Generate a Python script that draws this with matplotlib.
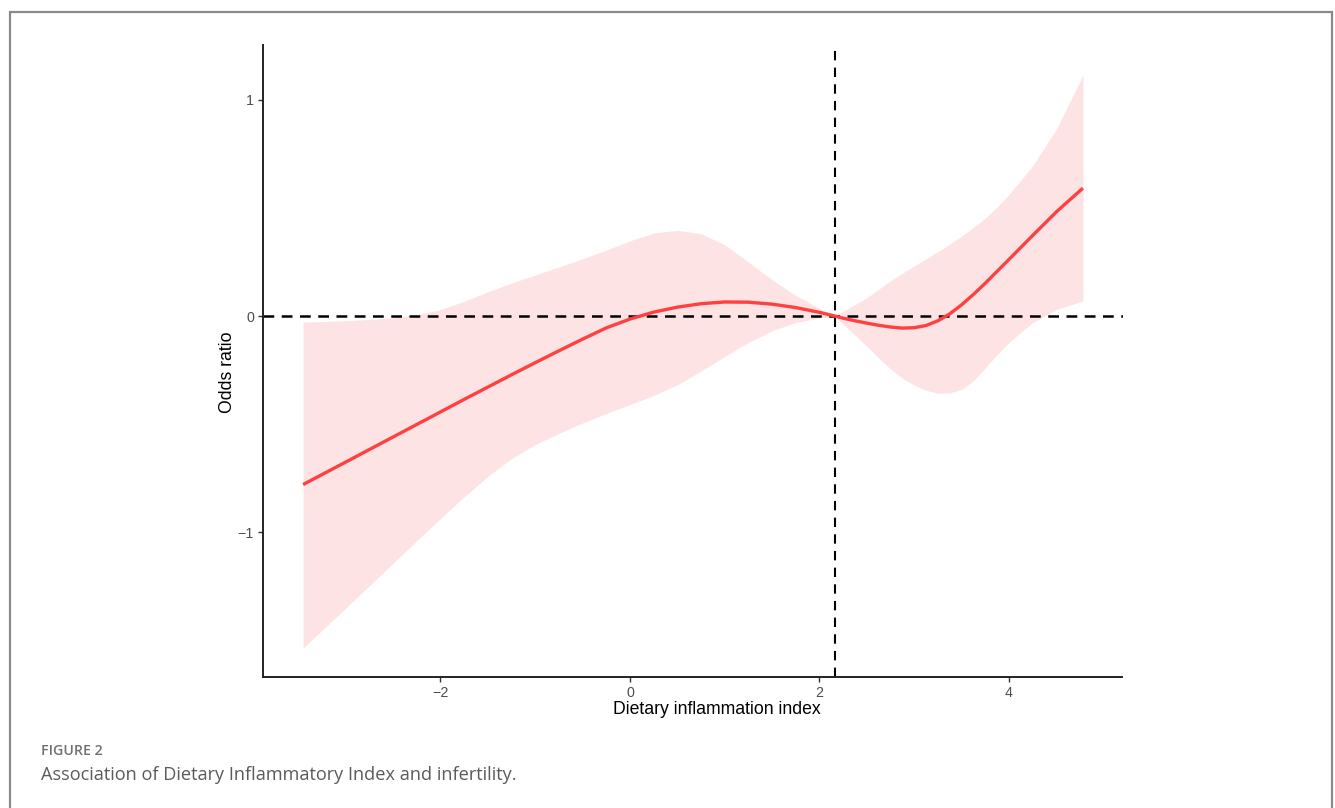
import matplotlib
matplotlib.use("Agg")
import matplotlib.pyplot as plt
from matplotlib.patches import Rectangle

# ---- data ----
dii = [-3.45, -3.25, -3.0, -2.75, -2.5, -2.25, -2.0, -1.75, -1.5, -1.25, -1.0,
       -0.75, -0.5, -0.25, 0.0, 0.25, 0.5, 0.75, 1.0, 1.25, 1.5, 1.75, 2.0,
       2.16, 2.25, 2.375, 2.5, 2.625, 2.75, 2.875, 3.0, 3.125, 3.25, 3.375,
       3.5, 3.625, 3.75, 3.875, 4.0, 4.25, 4.5, 4.78]
odds = [-0.780, -0.734, -0.676, -0.618, -0.560, -0.502, -0.444, -0.386, -0.329,
        -0.272, -0.216, -0.161, -0.107, -0.055, -0.014, 0.018, 0.041, 0.057,
        0.065, 0.064, 0.055, 0.039, 0.017, 0.0, -0.010, -0.022, -0.033, -0.043,
        -0.051, -0.056, -0.054, -0.044, -0.022, 0.010, 0.052, 0.100, 0.152,
        0.207, 0.262, 0.373, 0.482, 0.592]
upper = [-0.028, -0.026, -0.022, -0.016, -0.008, 0.006, 0.030, 0.068, 0.112,
         0.153, 0.190, 0.227, 0.265, 0.305, 0.348, 0.384, 0.397, 0.381, 0.330,
         0.250, 0.168, 0.095, 0.035, 0.002, 0.022, 0.052, 0.085, 0.124, 0.163,
         0.198, 0.232, 0.265, 0.298, 0.333, 0.370, 0.410, 0.453, 0.505, 0.562,
         0.695, 0.865, 1.115]
lower = [-1.537, -1.455, -1.352, -1.248, -1.144, -1.040, -0.937, -0.837, -0.742,
         -0.660, -0.595, -0.543, -0.495, -0.451, -0.410, -0.368, -0.318, -0.255,
         -0.187, -0.122, -0.068, -0.030, -0.009, -0.002, -0.038, -0.088, -0.140,
         -0.195, -0.245, -0.288, -0.320, -0.344, -0.357, -0.356, -0.340, -0.300,
         -0.240, -0.178, -0.122, -0.030, 0.030, 0.070]
ref_x = 2.16
ref_y = 0.0
xticks = [-2, 0, 2, 4]
yticks = [-1, 0, 1]

W, H = 1335, 808
fig = plt.figure(figsize=(W / 100, H / 100), dpi=100)
fig.patch.set_facecolor("white")

# outer border of the figure panel
fig.patches.append(Rectangle((10 / W, -0.05), (1332 - 10) / W, 1.05 - 12 / H,
                             transform=fig.transFigure, fill=False,
                             edgecolor="#8a8a8a", linewidth=1.6, clip_on=False))

ax = fig.add_axes([263 / W, 1 - 677 / H, (1122.5 - 263) / W, (677 - 45) / H])
ax.set_xlim(-3.873, 5.198)
ax.set_ylim(-1.671, 1.2546)

ax.fill_between(dii, lower, upper, color="#FDE3E4", linewidth=0, zorder=1)
ax.plot(dii, odds, color="#FF4040", linewidth=2.4, zorder=3,
        solid_capstyle="butt", solid_joinstyle="round")
ax.axhline(ref_y, color="black", linewidth=1.8, linestyle=(0, (4.3, 3.0)), zorder=2)
ax.axvline(ref_x, color="black", linewidth=1.5, linestyle=(0, (4.5, 3.5)), zorder=2)

for s in ["top", "right"]:
    ax.spines[s].set_visible(False)
for s in ["left", "bottom"]:
    ax.spines[s].set_linewidth(1.4)
    ax.spines[s].set_color("#222222")

ax.set_xticks(xticks)
ax.set_yticks(yticks)
ax.set_xticklabels(["\u22122", "0", "2", "4"])
ax.set_yticklabels(["\u22121", "0", "1"])
ax.tick_params(axis="both", length=3.5, width=1.0, color="#333333",
               labelcolor="#4D4D4D", labelsize=10.3, pad=3)
for lab in ax.get_xticklabels() + ax.get_yticklabels():
    lab.set_family(["Liberation Sans", "DejaVu Sans"])

ax.set_xlabel("Dietary inflammation index", fontsize=12.7,
              family=["Liberation Sans", "DejaVu Sans"], color="black")
ax.xaxis.set_label_coords((717 - 263) / (1122.5 - 263), -(710 - 677) / (677 - 45))
ax.xaxis.label.set_va("center")
ax.set_ylabel("Odds ratio", fontsize=12.7,
              family=["Liberation Sans", "DejaVu Sans"], color="black")
ax.yaxis.set_label_coords(-(263 - 227) / (1122.5 - 263), (677 - 372) / (677 - 45))
ax.yaxis.label.set_va("center")

fig.text(41 / W, 1 - 751 / H, "FIGURE 2", fontsize=10.2, color="#707070",
         family=["Open Sans", "DejaVu Sans"], fontweight="semibold", va="center")
fig.text(41 / W, 1 - 775 / H, "Association of Dietary Inflammatory Index and infertility.",
         fontsize=13.1, color="#5a5a5a", family=["Open Sans", "DejaVu Sans"],
         va="center")

fig.savefig("out.png", dpi=100, facecolor="white")
